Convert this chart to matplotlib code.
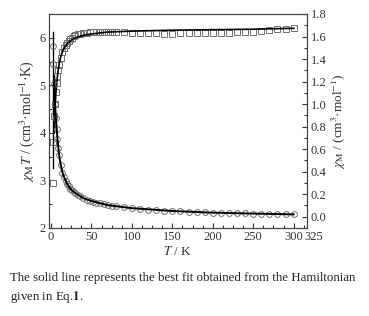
import matplotlib
matplotlib.use("Agg")
import matplotlib.pyplot as plt
from matplotlib.ticker import MultipleLocator

plt.rcParams['font.family'] = ['Liberation Serif', 'DejaVu Serif']
plt.rcParams['mathtext.fontset'] = 'stix'

# ---- data ----
T = [2, 3, 4, 5, 6, 7, 8, 9, 10, 12, 14, 16, 18, 20, 22, 24, 26, 28, 30, 33, 36, 40,
     44, 48, 52, 56, 60, 65, 70, 75, 80, 90, 100, 110, 120, 130, 140, 150, 160, 170,
     180, 190, 200, 210, 220, 230, 240, 250, 260, 270, 280, 290, 300]
chiMT = [2.95, 3.80, 4.35, 4.60, 4.85, 5.05, 5.20, 5.32, 5.42, 5.58, 5.70, 5.78, 5.85,
         5.90, 5.94, 5.98, 6.00, 6.03, 6.05, 6.07, 6.08, 6.10, 6.11, 6.12, 6.12, 6.13,
         6.13, 6.13, 6.13, 6.12, 6.12, 6.12, 6.11, 6.10, 6.09, 6.09, 6.08, 6.08, 6.09,
         6.09, 6.10, 6.10, 6.10, 6.11, 6.11, 6.12, 6.12, 6.13, 6.14, 6.17, 6.18, 6.19, 6.20]
chiM = [1.52, 1.36, 1.18, 1.00, 0.88, 0.78, 0.69, 0.61, 0.55, 0.46, 0.39, 0.35, 0.32,
        0.29, 0.27, 0.25, 0.235, 0.22, 0.21, 0.195, 0.18, 0.165, 0.152, 0.142, 0.133,
        0.125, 0.118, 0.110, 0.103, 0.097, 0.092, 0.083, 0.076, 0.070, 0.064, 0.059,
        0.055, 0.051, 0.047, 0.044, 0.041, 0.038, 0.036, 0.034, 0.032, 0.031, 0.029,
        0.028, 0.026, 0.025, 0.024, 0.022, 0.021]

T_fit = [4, 5, 6, 7, 8, 10, 12, 15, 20, 25, 30, 40, 50, 70, 100, 150, 200, 250, 300]
chiMT_fit = [4.00, 4.50, 4.85, 5.05, 5.20, 5.45, 5.60, 5.75, 5.88, 5.95, 6.00, 6.05,
             6.08, 6.12, 6.14, 6.16, 6.17, 6.18, 6.20]
T_fit2 = [4, 5, 6, 7, 8, 10, 12, 15, 20, 25, 30, 40, 50, 70, 100, 150, 200, 250, 300]
chiM_fit = [1.25, 1.00, 0.88, 0.78, 0.69, 0.55, 0.46, 0.37, 0.29, 0.24, 0.21, 0.165,
            0.14, 0.103, 0.076, 0.051, 0.036, 0.028, 0.021]
seg_T = [2.5, 2.5]
seg_y = [3.26, 6.13]

fig = plt.figure(figsize=(3.69, 3.16), dpi=100)
ax = fig.add_axes([49/369, 1-228/316, (307-49)/369, (228-14)/316])
ax2 = ax.twinx()

gray = '#707070'
ax.plot(T, chiMT, ls='none', marker='s', ms=4.2, mfc='none', mec=gray, mew=0.7)
ax.plot(T_fit, chiMT_fit, color='black', lw=1.2)
ax.plot(seg_T, seg_y, color='black', lw=1.0)
ax2.plot(T, chiM, ls='none', marker='o', ms=4.2, mfc='none', mec=gray, mew=0.7)
ax2.plot(T_fit2, chiM_fit, color='black', lw=1.4)

ax.set_xlim(-2.5, 316.5)
ax.set_ylim(2, 6.5)
ax2.set_ylim(-0.1, 1.8)

ax.set_xticks([0, 50, 100, 150, 200, 250, 300])
ax.xaxis.set_minor_locator(MultipleLocator(12.5))
ax.yaxis.set_major_locator(MultipleLocator(1))
ax.yaxis.set_minor_locator(MultipleLocator(0.5))
ax2.yaxis.set_minor_locator(MultipleLocator(0.1))
ax2.set_yticks([0.0, 0.2, 0.4, 0.6, 0.8, 1.0, 1.2, 1.4, 1.6, 1.8])
ax2.set_yticklabels(['0.0', '0.2', '0.4', '0.6', '0.8', '1.0', '1.2', '1.4', '1.6', '1.8'])

fs = 9
for a in (ax, ax2):
    a.tick_params(which='both', direction='in', labelsize=fs, colors='#333333', width=0.8)
    a.tick_params(which='major', length=3.5, pad=2.5)
    a.tick_params(which='minor', length=2)
    for s in a.spines.values():
        s.set_linewidth(0.8)
        s.set_color('#444444')
ax.annotate('325', xy=(325, 0), xycoords=('data', 'axes fraction'),
            xytext=(0, -2.5), textcoords='offset points', ha='center', va='top',
            fontsize=fs, color='#333333', annotation_clip=False)

ax.set_xlabel(r'$T$ / K', fontsize=9.5, labelpad=1, color='#333333')
ax.set_ylabel(r'$\chi_{\rm M}T$ / (cm$^3$·mol$^{-1}$·K)', fontsize=10, labelpad=2,
              color='#333333')
ax2.set_ylabel(r'$\chi_{\rm M}$ / (cm$^3$·mol$^{-1}$)', fontsize=9.5, labelpad=3,
               color='#333333')

fig.text(10/369, 1-278/316, 'The solid line represents the best fit obtained from the Hamiltonian',
         fontsize=9.3, va='center', ha='left', color='#222222')
fig.text(10/369, 1-297/316, r'given in Eq.$\mathbf{1}$.', fontsize=9.3, va='center',
         ha='left', color='#222222')

fig.savefig('out.png', dpi=100)
